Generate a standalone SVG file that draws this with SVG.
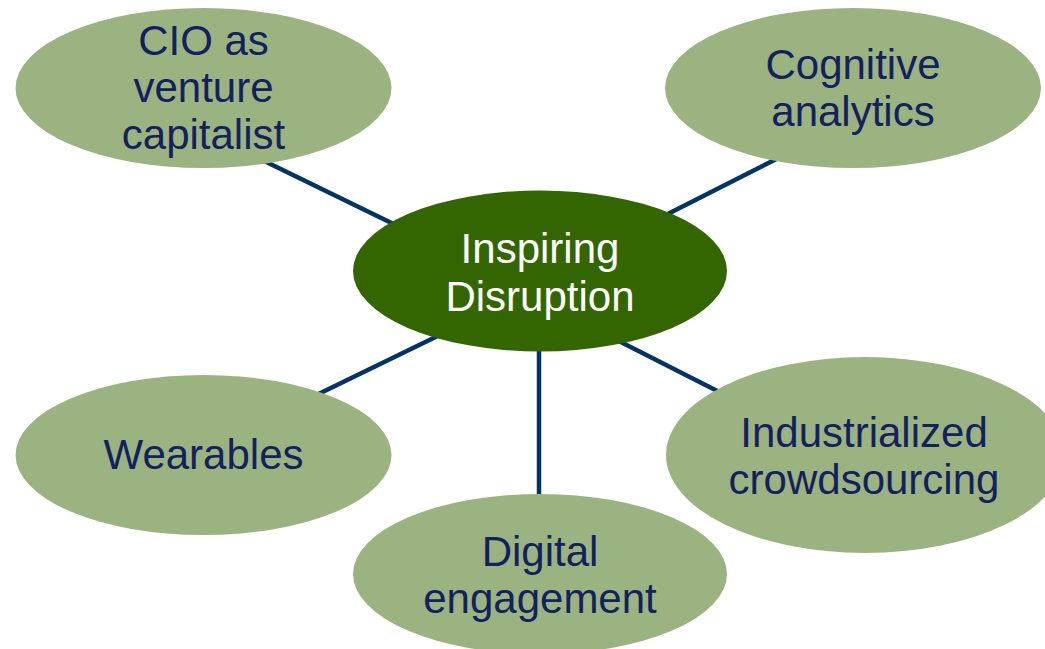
<svg xmlns="http://www.w3.org/2000/svg" width="1045" height="649" viewBox="0 0 1045 649">
<style>
.leaf{fill:#9BB380}
.hub{fill:#336600}
.t{font-family:"Liberation Sans",Arial,sans-serif;font-size:42px;text-anchor:middle;fill:#13215E}
.tw{fill:#FFFFFF}
.c{stroke:#043366;stroke-width:4.5;fill:none}
</style>
<rect width="1045" height="649" fill="#FFFFFF"/>
<g id="connectors">
<line class="c" x1="250" y1="154" x2="410" y2="232"/>
<line class="c" x1="800" y1="147" x2="650" y2="223"/>
<line class="c" x1="300" y1="403" x2="450" y2="330"/>
<line class="c" x1="605" y1="334" x2="735" y2="400"/>
<line class="c" x1="539" y1="340" x2="539" y2="500"/>
</g>
<g id="cio">
<ellipse class="leaf" cx="203.5" cy="88" rx="188" ry="80"/>
<text class="t" x="203.5" y="55">CIO as</text>
<text class="t" x="203.5" y="102">venture</text>
<text class="t" x="203.5" y="149">capitalist</text>
</g>
<g id="cognitive">
<ellipse class="leaf" cx="853" cy="88" rx="188" ry="80"/>
<text class="t" x="853" y="79">Cognitive</text>
<text class="t" x="853" y="126">analytics</text>
</g>
<g id="wearables">
<ellipse class="leaf" cx="203.5" cy="455" rx="188" ry="80"/>
<text class="t" x="203.5" y="469">Wearables</text>
</g>
<g id="industrialized">
<ellipse class="leaf" cx="865" cy="455" rx="199" ry="98"/>
<text class="t" x="864" y="447">Industrialized</text>
<text class="t" x="864" y="494">crowdsourcing</text>
</g>
<g id="digital">
<ellipse class="leaf" cx="540" cy="574" rx="187" ry="80"/>
<text class="t" x="540" y="566">Digital</text>
<text class="t" x="540" y="613">engagement</text>
</g>
<g id="hub">
<ellipse class="hub" cx="540" cy="271" rx="187" ry="80.5"/>
<text class="t tw" x="540" y="263">Inspiring</text>
<text class="t tw" x="540" y="311">Disruption</text>
</g>
</svg>
